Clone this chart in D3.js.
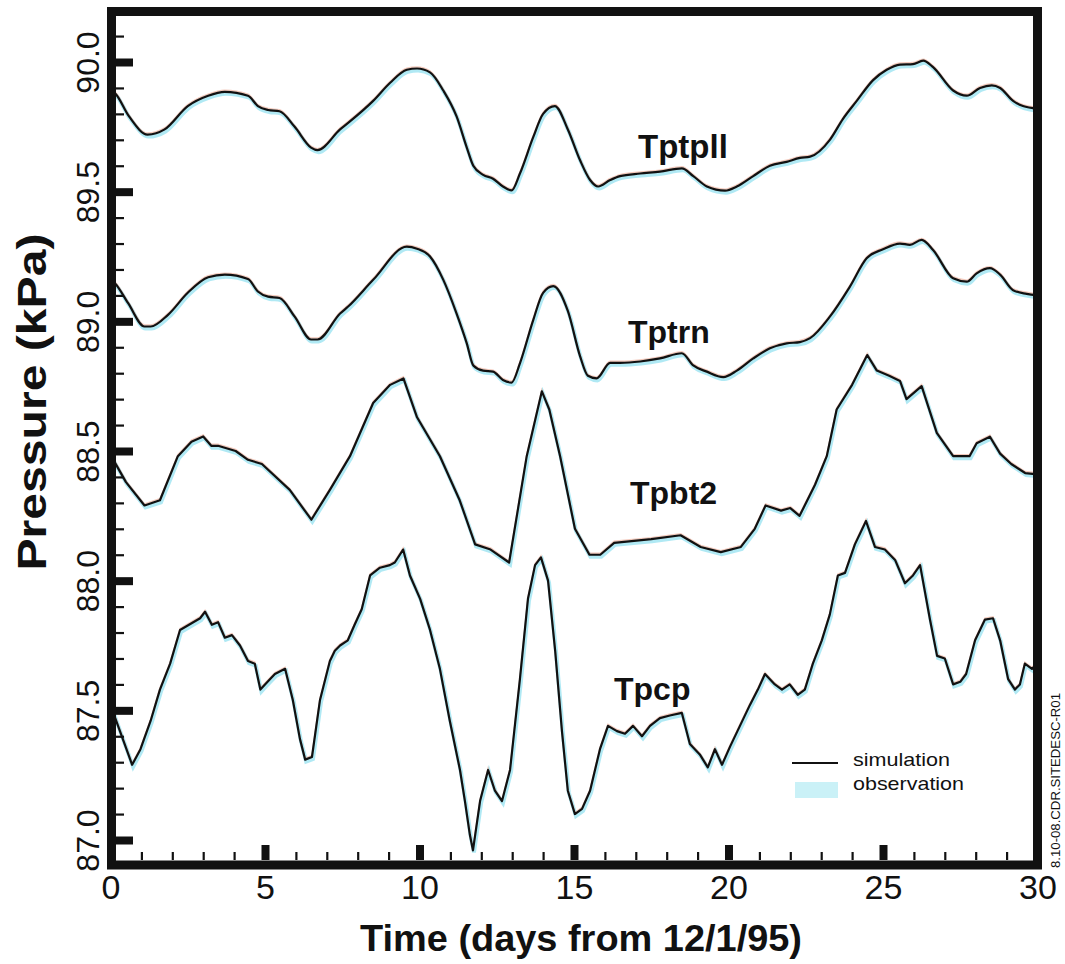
<!DOCTYPE html>
<html lang="en">
<head>
<meta charset="UTF-8"/>
<title>Pressure simulation vs observation</title>
<script src="https://d3js.org/d3.v7.min.js"></script>
<style>
    body { margin: 0; background: #fff; }
    text { font-family: Arial, "Liberation Sans", Helvetica, sans-serif; fill: #111; }
    .tick line { stroke: #111; }
</style>
</head>
<body>
<div id="chart"></div>
<script>
// time (days) and pressure (kPa)
var tptpllDay = [0, 0.14, 0.6, 1.2, 1.75, 2.5, 3.16, 3.7, 4.45, 4.77, 5.1, 5.47, 5.96, 6.49, 6.7, 7.43, 7.69, 8.5, 9.05, 9.59, 9.92, 10.34, 10.77, 11.2, 11.53, 11.74, 12.06, 12.38, 12.7, 12.98, 13.25, 13.68, 14.0, 14.38, 14.8, 15.2, 15.52, 15.78, 16.17, 16.49, 17.14, 17.78, 18.49, 18.86, 19.3, 19.89, 20.27, 20.8, 21.34, 21.88, 22.31, 22.64, 23.28, 23.7, 24.15, 24.68, 25.12, 25.55, 25.97, 26.3, 26.62, 27.27, 27.71, 28.14, 28.52, 28.79, 29.21, 29.53, 30];
var tptpllSim = [89.89, 89.88, 89.79, 89.72, 89.74, 89.83, 89.87, 89.885, 89.87, 89.83, 89.815, 89.81, 89.75, 89.67, 89.66, 89.74, 89.765, 89.85, 89.92, 89.97, 89.975, 89.96, 89.89, 89.79, 89.67, 89.6, 89.565, 89.55, 89.52, 89.505, 89.57, 89.71, 89.8, 89.83, 89.74, 89.62, 89.545, 89.52, 89.545, 89.56, 89.57, 89.577, 89.59, 89.56, 89.52, 89.504, 89.52, 89.56, 89.6, 89.615, 89.63, 89.635, 89.7, 89.78, 89.85, 89.93, 89.97, 89.99, 89.992, 90.005, 89.98, 89.89, 89.87, 89.9, 89.91, 89.9, 89.85, 89.83, 89.82];

var tptrnDay = [0, 0.14, 0.57, 1.1, 1.3, 1.86, 2.5, 3.16, 3.7, 4.45, 4.77, 5.1, 5.47, 5.96, 6.49, 6.7, 7.43, 7.69, 8.5, 9.59, 9.92, 10.34, 10.77, 11.2, 11.53, 11.74, 12.06, 12.38, 12.7, 12.98, 13.25, 13.68, 14.0, 14.33, 14.8, 15.2, 15.45, 15.73, 16.17, 16.49, 17.14, 17.78, 18.49, 18.86, 19.3, 19.83, 20.27, 20.8, 21.34, 21.88, 22.31, 22.64, 23.28, 23.93, 24.47, 25.0, 25.55, 25.87, 26.25, 26.62, 27.27, 27.71, 28.03, 28.46, 28.79, 29.21, 29.65, 30];
var tptrnSim = [89.16, 89.147, 89.07, 88.98, 88.98, 89.025, 89.11, 89.17, 89.18, 89.163, 89.115, 89.095, 89.09, 89.018, 88.93, 88.93, 89.03, 89.057, 89.16, 89.288, 89.28, 89.25, 89.16, 89.03, 88.915, 88.83, 88.81, 88.806, 88.774, 88.764, 88.838, 89.005, 89.11, 89.136, 89.04, 88.864, 88.79, 88.78, 88.84, 88.84, 88.845, 88.857, 88.877, 88.83, 88.806, 88.785, 88.81, 88.857, 88.896, 88.915, 88.92, 88.935, 89.018, 89.134, 89.243, 89.278, 89.3, 89.295, 89.314, 89.275, 89.166, 89.153, 89.185, 89.205, 89.18, 89.12, 89.106, 89.1];

var tpbt2Day = [0, 0.5, 1.1, 1.6, 2.18, 2.62, 3.0, 3.26, 3.48, 4.05, 4.45, 4.9, 5.8, 6.5, 7.1, 7.75, 8.5, 9.05, 9.48, 9.92, 10.66, 11.3, 11.8, 12.3, 12.9, 13.47, 13.96, 14.2, 14.55, 15.03, 15.5, 15.85, 16.3, 17.5, 18.45, 19.1, 19.75, 20.4, 20.85, 21.2, 21.7, 22.0, 22.3, 22.8, 23.18, 23.5, 24.0, 24.49, 24.8, 25.2, 25.55, 25.76, 26.25, 26.74, 27.27, 27.8, 28.03, 28.46, 28.79, 29.15, 29.6, 30];
var tpbt2Sim = [88.485, 88.38, 88.29, 88.31, 88.48, 88.536, 88.556, 88.52, 88.52, 88.5, 88.466, 88.45, 88.35, 88.235, 88.35, 88.48, 88.685, 88.755, 88.78, 88.63, 88.48, 88.31, 88.14, 88.12, 88.07, 88.48, 88.73, 88.66, 88.48, 88.2, 88.1, 88.1, 88.146, 88.16, 88.175, 88.13, 88.11, 88.13, 88.2, 88.29, 88.27, 88.28, 88.25, 88.37, 88.48, 88.66, 88.755, 88.87, 88.81, 88.79, 88.77, 88.7, 88.75, 88.57, 88.48, 88.48, 88.53, 88.555, 88.49, 88.45, 88.415, 88.41];

var tpcpDay = [0, 0.7, 0.97, 1.3, 1.6, 1.93, 2.25, 2.9, 3.06, 3.28, 3.48, 3.7, 3.93, 4.19, 4.45, 4.67, 4.85, 5.0, 5.32, 5.65, 5.9, 6.13, 6.3, 6.52, 6.78, 7.1, 7.26, 7.43, 7.68, 7.9, 8.13, 8.4, 8.72, 9.04, 9.2, 9.47, 9.69, 10.02, 10.34, 10.66, 10.98, 11.31, 11.47, 11.63, 11.73, 11.96, 12.22, 12.44, 12.67, 12.93, 13.25, 13.51, 13.74, 13.93, 14.16, 14.39, 14.61, 14.8, 15.03, 15.26, 15.52, 15.84, 16.1, 16.39, 16.65, 16.91, 17.2, 17.46, 17.78, 18.1, 18.49, 18.75, 19.07, 19.33, 19.56, 19.79, 20.05, 20.37, 20.69, 20.95, 21.18, 21.5, 21.73, 21.98, 22.24, 22.47, 22.73, 23.02, 23.28, 23.54, 23.77, 24.09, 24.45, 24.74, 25.06, 25.39, 25.71, 25.97, 26.2, 26.52, 26.75, 27.0, 27.27, 27.5, 27.69, 27.98, 28.3, 28.56, 28.79, 29.05, 29.27, 29.43, 29.59, 29.82, 30];
var tpcpSim = [87.52, 87.29, 87.35, 87.46, 87.58, 87.68, 87.81, 87.855, 87.88, 87.83, 87.84, 87.78, 87.79, 87.75, 87.69, 87.68, 87.58, 87.6, 87.64, 87.66, 87.54, 87.39, 87.31, 87.32, 87.54, 87.69, 87.73, 87.75, 87.77, 87.83, 87.89, 88.02, 88.05, 88.06, 88.07, 88.12, 88.02, 87.93, 87.81, 87.66, 87.46, 87.27, 87.15, 87.02, 86.96, 87.15, 87.27, 87.19, 87.15, 87.27, 87.62, 87.93, 88.06, 88.09, 88.0, 87.73, 87.42, 87.19, 87.1, 87.12, 87.19, 87.35, 87.44, 87.42, 87.41, 87.44, 87.4, 87.44, 87.47, 87.48, 87.49, 87.37, 87.33, 87.28, 87.35, 87.29, 87.36, 87.44, 87.52, 87.58, 87.64, 87.6, 87.58, 87.6, 87.56, 87.58, 87.68, 87.77, 87.87, 88.02, 88.03, 88.14, 88.23, 88.13, 88.12, 88.08, 87.99, 88.02, 88.06, 87.85, 87.71, 87.7, 87.6, 87.61, 87.64, 87.77, 87.85, 87.855, 87.77, 87.62, 87.58, 87.6, 87.68, 87.66, 87.68];

var seriesNames = ["Tptpll", "Tptrn", "Tpbt2", "Tpcp"];
var xTicksMajor = [5, 10, 15, 20, 25];
var xTickLabels = [0, 5, 10, 15, 20, 25, 30];
var yTickLabels = [87.0, 87.5, 88.0, 88.5, 89.0, 89.5, 90.0];

var series = [
    {name: "Tptpll", day: tptpllDay, sim: tptpllSim, smooth: true, lx: 638, ly: 158, fs: 33},
    {name: "Tptrn", day: tptrnDay, sim: tptrnSim, smooth: true, lx: 628, ly: 343, fs: 32},
    {name: "Tpbt2", day: tpbt2Day, sim: tpbt2Sim, smooth: false, lx: 630, ly: 504, fs: 32},
    {name: "Tpcp", day: tpcpDay, sim: tpcpSim, smooth: false, lx: 614, ly: 700, fs: 32}
];

var W = 1065, H = 964;

var svg = d3.select("#chart")
    .append("svg")
    .attr("width", W)
    .attr("height", H);

var x = d3.scaleLinear()
    .domain([0, 30])
    .range([110.5, 1037.5]);

var y = d3.scaleLinear()
    .domain([87, 90])
    .range([840, 62]);

// curves: observation (cyan, under) then simulation (black)
series.forEach(function(s) {
    var pts = s.day.map(function(d, i) { return [d, s.sim[i]]; });
    var line = d3.line()
        .x(function(d) { return x(d[0]); })
        .y(function(d) { return y(d[1]); })
        .curve(s.smooth ? d3.curveMonotoneX : d3.curveLinear);

    svg.append("path")
        .datum(pts)
        .attr("d", line)
        .attr("transform", "translate(1,2)")
        .attr("fill", "none")
        .attr("stroke", "#8fe0ef")
        .attr("stroke-width", 4)
        .attr("opacity", 0.7);

    svg.append("path")
        .datum(pts)
        .attr("d", line)
        .attr("transform", "translate(0,-1.5)")
        .attr("fill", "none")
        .attr("stroke", "#e9a58f")
        .attr("stroke-width", 1.5)
        .attr("opacity", 0.6);

    svg.append("path")
        .datum(pts)
        .attr("d", line)
        .attr("fill", "none")
        .attr("stroke", "#111")
        .attr("stroke-width", 2.2)
        .attr("stroke-linejoin", "round");

    svg.append("text")
        .attr("x", s.lx)
        .attr("y", s.ly)
        .style("font-size", s.fs + "px")
        .style("font-weight", "bold")
        .text(s.name);
});

// frame
svg.append("rect")
    .attr("x", x(0) + 1)
    .attr("y", 11.5)
    .attr("width", x(30) - x(0) - 1)
    .attr("height", 865 - 11.5)
    .attr("fill", "none")
    .attr("stroke", "#111")
    .attr("stroke-width", 9);

// y ticks (inward)
var yMinor = d3.range(871, 902).map(function(v) { return v / 10; })
    .filter(function(v) { return Math.round(v * 10) % 5 !== 0; });

svg.append("g")
    .attr("transform", "translate(116,0)")
    .call(d3.axisRight(y).tickValues(yMinor).tickSize(8).tickFormat(""))
    .call(function(g) { g.select(".domain").remove(); })
    .selectAll("line").attr("stroke-width", 2.2);

svg.append("g")
    .attr("transform", "translate(116,0)")
    .call(d3.axisRight(y).tickValues(yTickLabels).tickSize(17).tickFormat(""))
    .call(function(g) { g.select(".domain").remove(); })
    .selectAll("line").attr("stroke-width", 8);

var yLab = svg.append("g")
    .call(d3.axisLeft(y).tickValues(yTickLabels).tickSize(0).tickFormat(d3.format(".1f")));
yLab.select(".domain").remove();
yLab.selectAll("text")
    .attr("transform", "rotate(-90)")
    .attr("x", 0)
    .attr("y", 99)
    .attr("dy", 0)
    .attr("text-anchor", "middle")
    .style("font-size", "32px")
    .attr("fill", "#111");

// x ticks (inward)
var xMinor = d3.range(1, 30).filter(function(d) { return d % 5 !== 0; });

svg.append("g")
    .attr("transform", "translate(0,860)")
    .call(d3.axisBottom(x).tickValues(xMinor).tickSize(-8).tickFormat(""))
    .call(function(g) { g.select(".domain").remove(); })
    .selectAll("line").attr("stroke-width", 2.2);

svg.append("g")
    .attr("transform", "translate(0,860)")
    .call(d3.axisBottom(x).tickValues(xTicksMajor).tickSize(-15).tickFormat(""))
    .call(function(g) { g.select(".domain").remove(); })
    .selectAll("line").attr("stroke-width", 8);

var xLab = svg.append("g")
    .attr("transform", "translate(0,870)")
    .call(d3.axisBottom(x).tickValues(xTickLabels).tickSize(0).tickPadding(5));
xLab.select(".domain").remove();
xLab.selectAll("text")
    .style("font-size", "34px")
    .attr("fill", "#111");

// axis titles
svg.append("text")
    .attr("x", 581)
    .attr("y", 951)
    .attr("text-anchor", "middle")
    .attr("textLength", 442)
    .attr("lengthAdjust", "spacingAndGlyphs")
    .style("font-size", "36px")
    .style("font-weight", "bold")
    .text("Time (days from 12/1/95)");

svg.append("text")
    .attr("transform", "translate(46,402) rotate(-90)")
    .attr("text-anchor", "middle")
    .attr("textLength", 337)
    .attr("lengthAdjust", "spacingAndGlyphs")
    .style("font-size", "40px")
    .style("font-weight", "bold")
    .text("Pressure (kPa)");

// legend
var legend = svg.append("g");
legend.append("line")
    .attr("x1", 792).attr("x2", 838)
    .attr("y1", 763).attr("y2", 763)
    .attr("stroke", "#111")
    .attr("stroke-width", 2.2);
legend.append("rect")
    .attr("x", 795).attr("y", 782)
    .attr("width", 43).attr("height", 16)
    .attr("fill", "#bdeef5")
    .attr("opacity", 0.8);
legend.append("text")
    .attr("x", 853).attr("y", 766)
    .attr("textLength", 97)
    .attr("lengthAdjust", "spacingAndGlyphs")
    .style("font-size", "19px")
    .text("simulation");
legend.append("text")
    .attr("x", 853).attr("y", 790)
    .attr("textLength", 111)
    .attr("lengthAdjust", "spacingAndGlyphs")
    .style("font-size", "19px")
    .text("observation");

// drawing id on the right margin
svg.append("text")
    .attr("transform", "translate(1060,868) rotate(-90)")
    .attr("textLength", 175)
    .attr("lengthAdjust", "spacingAndGlyphs")
    .style("font-size", "13px")
    .text("8.10-08.CDR.SITEDESC-R01");
</script>
</body>
</html>
